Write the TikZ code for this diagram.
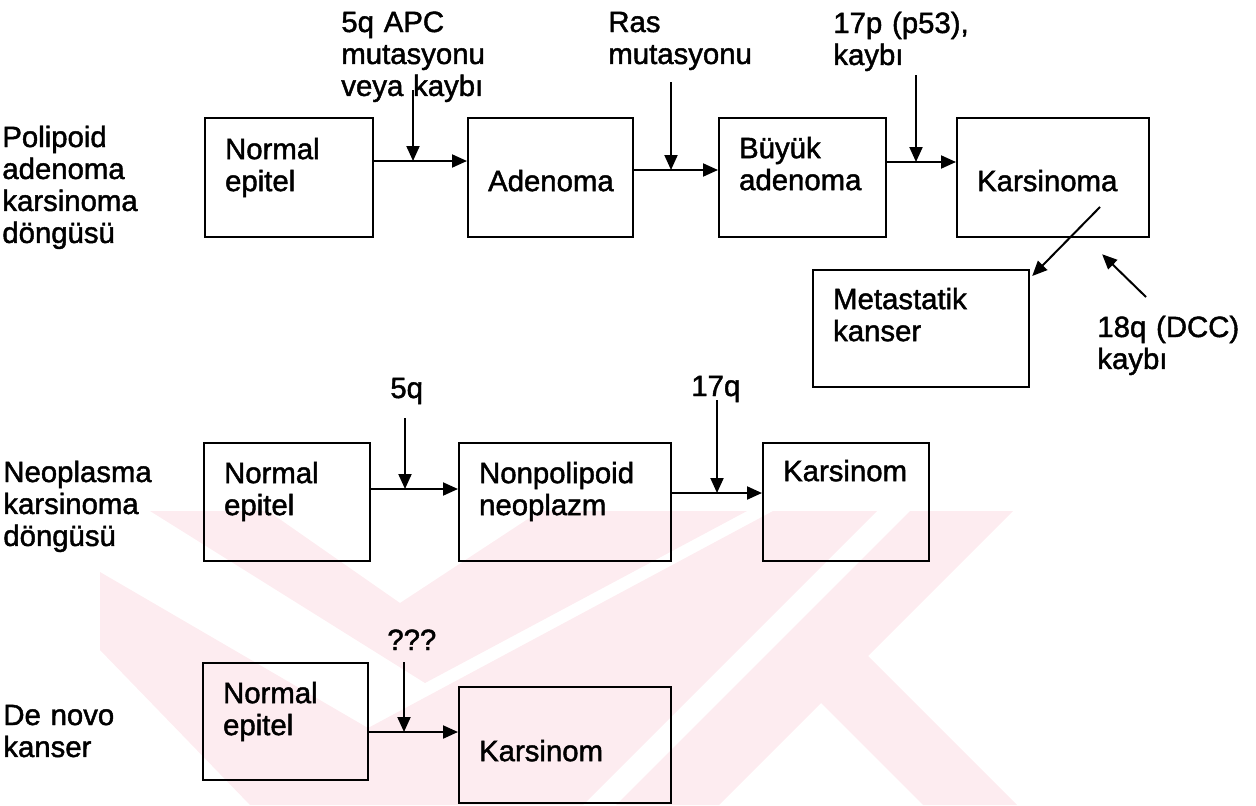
\documentclass[tikz,border=0pt]{standalone}
\usepackage{fontspec}
\setmainfont{Liberation Sans}
\newfontfamily\scanfont{Liberation Sans}[FakeBold=1.5]
\usepackage{tikz}
\usetikzlibrary{arrows.meta}
\definecolor{wmpink}{RGB}{253,236,240}
\tikzstyle{stage} = [rectangle, sharp corners, draw, line width=0.045cm,
                     anchor=north west, align=left,
                     inner xsep=0.4cm, inner ysep=0pt]
\tikzstyle{note} = [anchor=base west, align=left, inner sep=0pt,
                    text width=4.6cm]
\tikzstyle{arr} = [line width=0.04cm, -{Triangle[length=0.3cm,width=0.26cm]}]

\begin{document}
\begin{tikzpicture}[x=0.02cm, y=-0.02cm,
every node/.style={font=\scanfont\fontsize{16.7pt}{18.2pt}\selectfont},
wm/.style={fill=wmpink}]
\useasboundingbox (0,0) rectangle (1256,805);

%watermark
\fill[wm] (150,511) -- (268,511) -- (400,603) -- (540,511) -- (747,511) -- (425,683) -- cycle;
\fill[wm] (773,511) -- (877,511) -- (583,805) -- (250,805) -- (100,650) -- (100,572) -- (368,728) -- cycle;
\fill[wm] (910,511) -- (1013,511) -- (868,656) -- (1017,805) -- (923,805) -- (821,703) -- (719,805) -- (616,805) -- cycle;

%Polipoid
\node[note] (pol) at (2,147) {Polipoid\\adenoma\\karsinoma\\döngüsü};
\node[stage, text width=2.56cm, text height=0.82cm, text depth=1.56cm] at (204,117) (n1) {Normal\\epitel};
\node[stage, text width=2.50cm, text height=1.46cm, text depth=0.92cm] at (467,117) (aden) {Adenoma};
\node[stage, text width=2.54cm, text height=0.80cm, text depth=1.58cm] at (718,117) (buyuk) {Büyük\\adenoma};
\node[stage, text width=3.04cm, text height=1.46cm, text depth=0.92cm] at (956,117) (kars1) {Karsinoma};
\node[stage, text width=3.52cm, text height=0.78cm, text depth=1.56cm] at (812,269) (meta) {Metastatik\\kanser};

\node[note] (apc) at (341,32) {5q APC\\mutasyonu\\veya kaybı};
\node[note] (ras) at (608,32) {Ras\\mutasyonu};
\node[note] (p53) at (833,33) {17p (p53),\\kaybı};
\node[note] (dcc) at (1097,337) {18q (DCC)\\kaybı};

\coordinate (j1) at (413,161);
\coordinate (d1) at (413,90);
\coordinate (j2) at (671,170);
\coordinate (d2) at (671,82);
\coordinate (j3) at (916,162);
\coordinate (d3) at (916,75);
\coordinate (ms) at (1100,207);
\coordinate (q18) at (1146,297);

\draw[arr] (n1.east |- j1) -- (aden.west |- j1);
\draw[arr] (d1) -- (j1);
\draw[arr] (aden.east |- j2) -- (buyuk.west |- j2);
\draw[arr] (d2) -- (j2);
\draw[arr] (buyuk.east |- j3) -- (kars1.west |- j3);
\draw[arr] (d3) -- (j3);
\draw[arr] (ms) -- ([xshift=0.04cm,yshift=-0.14cm]meta.north east);
\draw[arr] (q18) -- ([xshift=0.98cm,yshift=-0.32cm]kars1.south);

%Neoplasma
\node[note] (neo) at (3,482) {Neoplasma\\karsinoma\\döngüsü};
\node[stage, text width=2.52cm, text height=0.80cm, text depth=1.56cm] at (203,442) (n2) {Normal\\epitel};
\node[stage, text width=3.44cm, text height=0.80cm, text depth=1.56cm] at (458,442) (nonp) {Nonpolipoid\\neoplazm};
\node[stage, text width=2.52cm, text height=0.76cm, text depth=1.60cm] at (762,442) (kars2) {Karsinom};

\node[note] (q5) at (390,398) {5q};
\node[note] (q17) at (691,396) {17q};

\coordinate (j4) at (405,489);
\coordinate (d4) at (405,418);
\coordinate (j5) at (717,493);
\coordinate (d5) at (717,400);

\draw[arr] (n2.east |- j4) -- (nonp.west |- j4);
\draw[arr] (d4) -- (j4);
\draw[arr] (nonp.east |- j5) -- (kars2.west |- j5);
\draw[arr] (d5) -- (j5);

%De novo
\node[note] (dnv) at (3,725) {De novo\\kanser};
\node[stage, text width=2.50cm, text height=0.80cm, text depth=1.54cm] at (202,662) (n3) {Normal\\epitel};
\node[stage, text width=3.44cm, text height=1.48cm, text depth=0.84cm] at (458,686) (kars3) {Karsinom};

\node[note] (unk) at (387,650) {???};

\coordinate (j6) at (404,732);
\coordinate (d6) at (404,662);

\draw[arr] (n3.east |- j6) -- (kars3.west |- j6);
\draw[arr] (d6) -- (j6);
\end{tikzpicture}
\end{document}
